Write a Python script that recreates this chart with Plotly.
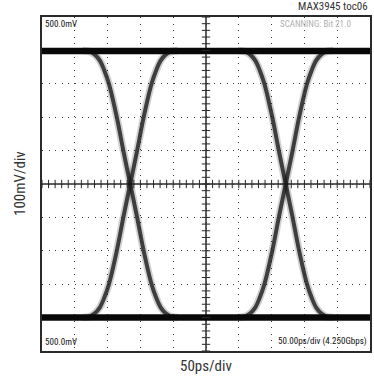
import plotly.graph_objects as go

# ---- data (time in ps, voltage in mV) ----
level_t = [0, 500]
high_mv = [398, 398]
low_mv = [-400, -400]

edge_mv_fall = [400, 397, 388, 370, 340, 300, 200, 100, 0, -100, -200, -300, -340, -370, -388, -397, -400]
edge_mv_rise = [-400, -397, -388, -370, -340, -300, -200, -100, 0, 100, 200, 300, 340, 370, 388, 397, 400]

fall1_t = [62, 72, 80, 88, 95, 102, 114, 124, 134.5, 145, 155, 167, 174, 181, 189, 197, 207]
rise1_t = [62, 72, 80, 88, 95, 102, 114, 124, 134.5, 145, 155, 167, 174, 181, 189, 197, 207]
fall2_t = [299, 309, 317, 325, 332, 339, 351, 361, 371.5, 382, 392, 404, 411, 418, 426, 434, 444]
rise2_t = [299, 309, 317, 325, 332, 339, 351, 361, 371.5, 382, 392, 404, 411, 418, 426, 434, 444]

x_range = [0, 500]
y_range = [-500, 500]
center_t = 250
center_mv = 0
minor_t = list(range(0, 501, 10))
minor_mv = list(range(-500, 501, 20))

FONT = "Liberation Sans Narrow, Roboto Condensed, Arial Narrow, Liberation Sans, sans-serif"
AX = "#2a2a2a"

fig = go.Figure()

# edges: soft halo + core to mimic the speckled bands
for t, v in [(fall1_t, edge_mv_fall), (rise1_t, edge_mv_rise),
             (fall2_t, edge_mv_fall), (rise2_t, edge_mv_rise)]:
    fig.add_trace(go.Scatter(x=t, y=v, mode="lines", line=dict(color="rgba(0,0,0,0.18)", width=7.5, shape="spline"),
                             hoverinfo="skip", showlegend=False))
    fig.add_trace(go.Scatter(x=t, y=v, mode="lines", line=dict(color="rgba(25,25,25,0.8)", width=4, shape="spline"),
                             hoverinfo="skip", showlegend=False))

# levels
for v in (high_mv, low_mv):
    fig.add_trace(go.Scatter(x=level_t, y=v, mode="lines", line=dict(color="#080808", width=6.5),
                             hoverinfo="skip", showlegend=False))

# center axes with tick marks
fig.add_shape(type="line", x0=center_t, x1=center_t, y0=y_range[0], y1=y_range[1],
              line=dict(color=AX, width=1.5), layer="below")
fig.add_shape(type="line", x0=x_range[0], x1=x_range[1], y0=center_mv, y1=center_mv,
              line=dict(color=AX, width=1.5), layer="below")
fig.add_trace(go.Scatter(x=minor_t, y=[center_mv] * len(minor_t), mode="markers",
                         marker=dict(symbol="line-ns-open", size=6, color=AX, line=dict(color=AX, width=1)),
                         hoverinfo="skip", showlegend=False))
fig.add_trace(go.Scatter(x=[center_t] * len(minor_mv), y=minor_mv, mode="markers",
                         marker=dict(symbol="line-ew-open", size=6, color=AX, line=dict(color=AX, width=1)),
                         hoverinfo="skip", showlegend=False))

axis_common = dict(showticklabels=False, ticks="", showgrid=True, gridcolor="#3a3a3a", gridwidth=1,
                   griddash="1px,5.6px", zeroline=False, showline=True, mirror=True,
                   linecolor=AX, linewidth=2, fixedrange=True)

fig.update_layout(
    width=374, height=384,
    margin=dict(l=42, r=2, t=17, b=33),
    paper_bgcolor="white", plot_bgcolor="white",
    xaxis=dict(range=x_range, dtick=50, **axis_common),
    yaxis=dict(range=y_range, dtick=100, **axis_common),
    font=dict(family=FONT, color="#333333"),
    annotations=[
        dict(text="50ps/div", xref="paper", yref="paper", x=0.5, y=-0.045, showarrow=False,
             font=dict(size=15, color="#333333"), xanchor="center", yanchor="middle"),
        dict(text="100mV/div", xref="paper", yref="paper", x=-0.067, y=0.5, showarrow=False,
             textangle=-90, font=dict(size=15, color="#333333"), xanchor="center", yanchor="middle"),
        dict(text="MAX3945 toc06", xref="paper", yref="paper", x=1.0, y=1.031, showarrow=False,
             font=dict(size=11, color="#333333"), xanchor="right", yanchor="middle"),
        dict(text="500.0mV", xref="paper", yref="paper", x=0.003, y=0.979, showarrow=False,
             font=dict(size=9, color="#111111"), xanchor="left", yanchor="middle"),
        dict(text="SCANNING: Bit 21.0", xref="paper", yref="paper", x=0.72, y=0.978, showarrow=False,
             font=dict(size=9, color="#b0b0b0"), xanchor="left", yanchor="middle"),
        dict(text="500.0mV", xref="paper", yref="paper", x=0.003, y=0.027, showarrow=False,
             font=dict(size=9, color="#111111"), xanchor="left", yanchor="middle"),
        dict(text="50.00ps/div (4.250Gbps)", xref="paper", yref="paper", x=0.997, y=0.027, showarrow=False,
             font=dict(size=9, color="#111111"), xanchor="right", yanchor="middle"),
    ],
)

fig.write_html("out.html")
